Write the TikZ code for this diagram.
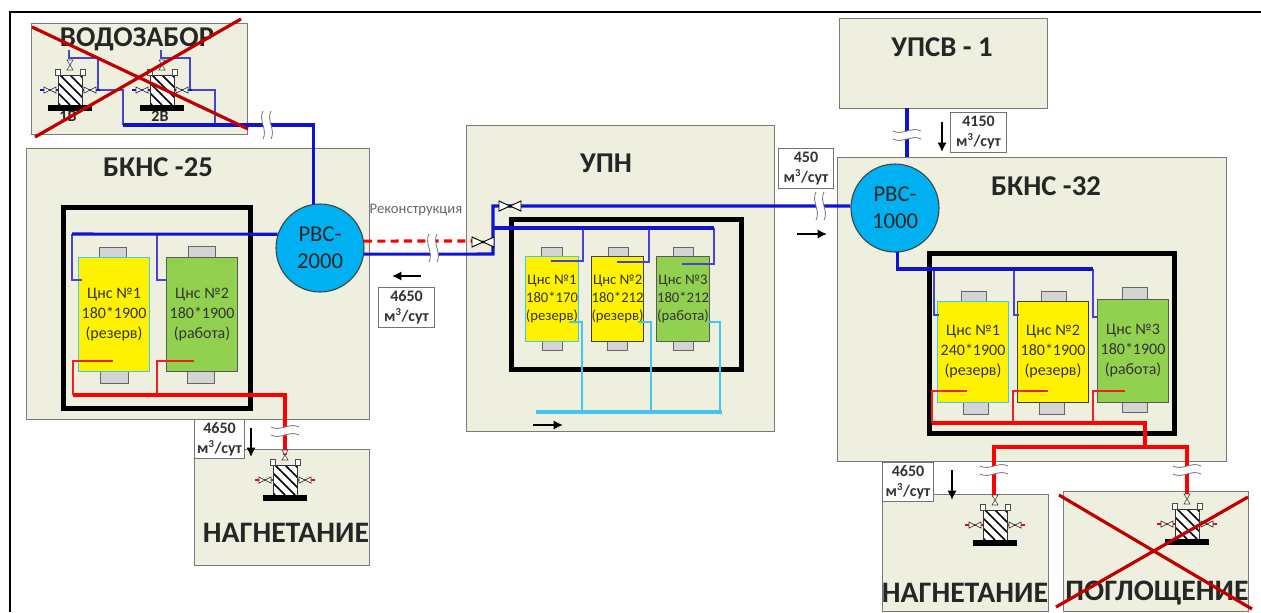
\documentclass[tikz,border=0pt]{standalone}
\usepackage{fontspec}
\setmainfont{Carlito}
\usetikzlibrary{arrows.meta}
\definecolor{bgbox}{HTML}{EFEFDF}
\definecolor{edgegray}{HTML}{7A7A7A}
\definecolor{capgray}{HTML}{D4D4D4}
\definecolor{pumpgreen}{HTML}{92D050}
\definecolor{tankblue}{HTML}{00B0F0}
\definecolor{pipeblue}{HTML}{1212D2}
\definecolor{thinblue}{HTML}{4545D0}
\definecolor{skyline}{HTML}{45C4EE}
\definecolor{pipered}{HTML}{FF0000}
\definecolor{thinred}{HTML}{F02020}
\definecolor{crossred}{HTML}{C00000}
\tikzset{
  sized/.style 2 args={minimum width=#1*.75pt,minimum height=#2*.75pt},
  station/.style ={draw=edgegray,fill=bgbox,line width=1.1pt,anchor=north west,inner sep=0pt},
  room/.style    ={draw=black,line width=3.6pt,anchor=north west,inner sep=0pt},
  stitle/.style  ={inner sep=0pt,font=\fontsize{21.5}{24}\selectfont\bfseries,text=black!85},
  wtitle/.style  ={stitle,font=\fontsize{22.3}{24}\selectfont\bfseries},
  pumpy/.style   ={draw=skyline,fill=yellow,line width=.8pt,anchor=north west,inner sep=0pt,align=center,
                   font=\fontsize{12}{15}\selectfont,text=black!80},
  pumpk/.style   ={pumpy,draw=black!75},
  pumpg/.style   ={pumpy,draw=black!65,fill=pumpgreen},
  upn/.style     ={font=\fontsize{11}{13.4}\selectfont},
  pumpcap/.style ={draw=black!60,fill=capgray,line width=.8pt,anchor=north west,inner sep=0pt},
  tank/.style    ={circle,draw=black!75,fill=tankblue,line width=.8pt,minimum size=66pt,inner sep=0pt,
                   align=center,font=\fontsize{17}{20}\selectfont,text=black!85},
  rate/.style    ={draw=black!55,fill=white,line width=.8pt,anchor=north west,inner sep=0pt,align=center,
                   font=\fontsize{12}{15}\selectfont\bfseries,text=black!80},
  wlabel/.style  ={inner sep=0pt,font=\fontsize{12}{13}\selectfont\bfseries,text=black!85},
  bluemain/.style={draw=pipeblue,line width=2.3pt},
  bluethin/.style={draw=thinblue,line width=.9pt},
  redmain/.style ={draw=pipered,line width=2.3pt},
  redthin/.style ={draw=thinred,line width=.8pt},
  redplan/.style ={redmain,dash pattern=on 6pt off 4pt},
  skymain/.style ={draw=skyline,line width=2.3pt},
  skythin/.style ={draw=skyline,line width=.9pt},
  flow/.style    ={-{Latex[length=7pt,width=7pt]},line width=1.4pt},
  crossout/.style={draw=crossred,line width=2.4pt},
  pipebreak/.pic={
    \fill[white] (-4,-14) .. controls (-9,-5) and (1,5) .. (-4,14) -- (4,14)
      .. controls (9,5) and (-1,-5) .. (4,-14) -- cycle;
    \draw[black!55,line width=.6pt] (-4,-14) .. controls (-9,-5) and (1,5) .. (-4,14);
    \draw[black!55,line width=.6pt] (4,-14) .. controls (-1,-5) and (9,5) .. (4,14);
  },
  valve/.pic={
    \draw[black,fill=white,line width=.7pt] (-11,-5) -- (11,5) -- (11,-5) -- (-11,5) -- cycle;
    \fill[black] (0,0) circle (1.6);
  },
  well/.pic={
    \draw[pic actions,line width=.8pt] (-30,0) -- (-12,0) (12,0) -- (30,0);
    \begin{scope}
      \clip (-12,-15) rectangle (12,15);
      \fill[white] (-12,-15) rectangle (12,15);
      \foreach \hx in {-40,-30,...,10} \draw[black,line width=1.3pt] (\hx,-15) -- (\hx+30,15);
    \end{scope}
    \draw[black!80,line width=.7pt] (-12,-15) rectangle (12,15);
    \fill[black] (-22,15) rectangle (22,21);
    \draw[black!70,fill=white,line width=.5pt] (-15,-21) rectangle (-10,-15);
    \draw[black!70,fill=white,line width=.5pt] (10,-21) rectangle (15,-15);
    \draw[black!70,fill=white,line width=.5pt] (-3,-30) -- (3,-20) -- (-3,-20) -- (3,-30) -- cycle;
    \draw[black!80,fill=white,line width=.5pt] (-26,-3) -- (-14,3) -- (-14,-3) -- (-26,3) -- cycle;
    \draw[black!80,fill=white,line width=.5pt] (14,-3) -- (26,3) -- (26,-3) -- (14,3) -- cycle;
  },
}

\begin{document}
\begin{tikzpicture}[x=.75pt,y=-.75pt]
  \useasboundingbox (0,0) rectangle (1261,612);
  \draw[black,line width=1.7pt] (1261,12) -- (10,12) -- (10,612);

  % stations
  \node[station,sized={216}{111}] (vodozabor) at (31,23) {};
  \node[station,sized={343}{271}] (bkns25) at (26,148) {};
  \node[station,sized={175}{116}] (nagn25) at (194,449) {};
  \node[station,sized={308}{306}] (upn) at (466,125) {};
  \node[station,sized={208}{90}] (upsv) at (839,18) {};
  \node[station,sized={389}{304}] (bkns32) at (837,157) {};
  \node[station,sized={166}{117}] (nagn32) at (882,494) {};
  \node[station,sized={185}{120}] (pogl) at (1063,491) {};

  \node[stitle] (tvodozabor) at (137,39) {ВОДОЗАБОР};
  \node[stitle] (tbkns25) at (158,167) {БКНС -25};
  \node[wtitle] (tnagn25) at (286,533) {НАГНЕТАНИЕ};
  \node[stitle] (tupn) at (606,163) {УПН};
  \node[stitle] (tupsv) at (942,47) {УПСВ - 1};
  \node[stitle] (tbkns32) at (1046,186) {БКНС -32};
  \node[wtitle] (tnagn32) at (965,593) {НАГНЕТАНИЕ};
  \node[wtitle] (tpogl) at (1157,593) {ПОГЛОЩЕНИЕ};

  % pump rooms
  \node[room,sized={187}{201}] (room25) at (61,205) {};
  \node[room,sized={230}{150}] (roomupn) at (509,217) {};
  \node[room,sized={245}{180}] (room32) at (927,251) {};

  % pumps, BKNS-25
  \node[pumpcap,sized={27}{10}] (c25a) at (99,247) {};
  \node[pumpcap,sized={28}{12}] (d25a) at (100,371) {};
  \node[pumpcap,sized={27}{11}] (c25b) at (188,246) {};
  \node[pumpcap,sized={27}{12}] (d25b) at (187,371) {};
  \node[pumpy,sized={71}{114}] (p25a) at (78,257) {Цнс №1\\180*1900\\(резерв)};
  \node[pumpg,sized={71}{114}] (p25b) at (166,257) {Цнс №2\\180*1900\\(работа)};

  % pumps, UPN
  \node[pumpcap,sized={21}{9}] (cupa) at (541,247) {};
  \node[pumpcap,sized={20}{9}] (dupa) at (542,341) {};
  \node[pumpcap,sized={20}{9}] (cupb) at (608,247) {};
  \node[pumpcap,sized={20}{9}] (dupb) at (607,341) {};
  \node[pumpcap,sized={20}{9}] (cupc) at (673,247) {};
  \node[pumpcap,sized={20}{9}] (dupc) at (673,341) {};
  \node[pumpy,upn,sized={53}{85}] (pupa) at (525,256) {Цнс №1\\180*170\\(резерв)};
  \node[pumpk,upn,sized={52}{85}] (pupb) at (591,256) {Цнс №2\\180*212\\(резерв)};
  \node[pumpg,upn,sized={53}{85}] (pupc) at (656,256) {Цнс №3\\180*212\\(работа)};

  % pumps, BKNS-32
  \node[pumpcap,sized={25}{10}] (c32a) at (961,291) {};
  \node[pumpcap,sized={25}{12}] (d32a) at (963,402) {};
  \node[pumpcap,sized={25}{10}] (c32b) at (1041,291) {};
  \node[pumpcap,sized={25}{12}] (d32b) at (1039,402) {};
  \node[pumpcap,sized={25}{12}] (c32c) at (1122,287) {};
  \node[pumpcap,sized={25}{11}] (d32c) at (1122,401) {};
  \node[pumpy,sized={71}{101}] (p32a) at (937,301) {Цнс №1\\240*1900\\(резерв)};
  \node[pumpk,sized={71}{101}] (p32b) at (1017,301) {Цнс №2\\180*1900\\(резерв)};
  \node[pumpg,sized={71}{103}] (p32c) at (1097,299) {Цнс №3\\180*1900\\(работа)};

  % tanks
  \node[tank] (tank25) at (320,248) {РВС-\\2000};
  \node[tank] (tank32) at (895,208) {РВС-\\1000};

  % junctions
  \coordinate (wa) at (69,50);
  \coordinate (waa) at (98,58);
  \coordinate (wab) at (123,90);
  \coordinate (wba) at (161,50);
  \coordinate (wbb) at (190,58);
  \coordinate (wbc) at (215,90);
  \coordinate (wsa) at (123,125);
  \coordinate (wsb) at (215,125);
  \coordinate (wel) at (82,90);
  \coordinate (wer) at (174,90);
  \coordinate (ja) at (72,234);
  \coordinate (jaa) at (82,280);
  \coordinate (jb) at (157,234);
  \coordinate (jba) at (166,280);
  \coordinate (ra) at (113,361);
  \coordinate (raa) at (73,395);
  \coordinate (rb) at (194,361);
  \coordinate (rba) at (157,395);
  \coordinate (rd) at (285,455);
  \coordinate (ua) at (493,254);
  \coordinate (ub) at (493,206);
  \coordinate (uc) at (493,228);
  \coordinate (ud) at (583,228);
  \coordinate (ue) at (649,228);
  \coordinate (uf) at (714,228);
  \coordinate (uda) at (551,261);
  \coordinate (uea) at (617,262);
  \coordinate (ufa) at (682,264);
  \coordinate (ka) at (569,322);
  \coordinate (kaa) at (582,412);
  \coordinate (kb) at (638,322);
  \coordinate (kba) at (651,412);
  \coordinate (kc) at (708,322);
  \coordinate (kca) at (720,412);
  \coordinate (ks) at (536,412);
  \coordinate (ke) at (722,412);
  \coordinate (va) at (907,108);
  \coordinate (vb) at (907,157);
  \coordinate (xb) at (1093,269);
  \coordinate (xc) at (934,269);
  \coordinate (xca) at (939,315);
  \coordinate (xd) at (1014,269);
  \coordinate (xda) at (1019,315);
  \coordinate (xea) at (1097,317);
  \coordinate (za) at (967,391);
  \coordinate (zaa) at (932,423);
  \coordinate (zb) at (1048,391);
  \coordinate (zba) at (1013,423);
  \coordinate (zc) at (1125,391);
  \coordinate (zca) at (1093,423);
  \coordinate (ze) at (1145,447);
  \coordinate (zg) at (1187,447);
  \coordinate (zfa) at (994,497);
  \coordinate (zga) at (1187,497);
  \coordinate (plan) at (472,241);

  % thin branches
  \draw[bluethin] (wa) |- (waa) |- (wel);
  \draw[bluethin] (waa |- wel) -- (wab) -- (wsa);
  \draw[bluethin] (wba) |- (wbb) |- (wer);
  \draw[bluethin] (wbb |- wer) -- (wbc) -- (wsb);
  \draw[bluethin] (ja) |- (jaa);
  \draw[bluethin] (jb) |- (jba);
  \draw[redthin] (ra) -| (raa);
  \draw[redthin] (rb) -| (rba);
  \draw[bluethin] (ud) |- (uda);
  \draw[bluethin] (ue) |- (uea);
  \draw[bluethin] (uf) |- (ufa);
  \draw[skythin] (ka) -| (kaa);
  \draw[skythin] (kb) -| (kba);
  \draw[skythin] (kc) -| (kca);
  \draw[bluethin] (xc) |- (xca);
  \draw[bluethin] (xd) |- (xda);
  \draw[bluethin] (xb) |- (xea);
  \draw[redthin] (za) -| (zaa);
  \draw[redthin] (zb) -| (zba);
  \draw[redthin] (zc) -| (zca);

  % main pipes
  \draw[bluemain] (wsa) -| (tank25.99);
  \draw[bluemain] (tank25.162) -- (ja);
  \draw[redmain] (raa) -| (rd);
  \draw[redplan] (tank25.9) -- (plan);
  \draw[bluemain] (tank25.-8) -- (ua) -- (ub) -- (tank32.west |- ub);
  \draw[bluemain] (uc) -- (uf);
  \draw[skymain] (ks) -- (ke);
  \draw[bluemain] (va) -- (vb);
  \draw[bluemain] (tank32.-87) |- (xb);
  \draw[redmain] (zaa) -| (ze);
  \draw[redmain] (zfa) |- (zg) -- (zga);

  % wells
  \pic[draw=pipeblue] (wellb1) at (70,90) {well};
  \pic[draw=pipeblue] (wellb2) at (162,90) {well};
  \pic[draw=pipered] (welln25) at (285,480) {well};
  \pic[draw=pipered] (welln32) at (995,525) {well};
  \pic[draw=pipered] (wellp) at (1187,524) {well};
  \node[wlabel] (lb1) at (68,116) {1В};
  \node[wlabel] (lb2) at (160,116) {2В};

  % valves and pipe breaks
  \pic (vup) at (510,206) {valve};
  \pic (vplan) at (483,242) {valve};
  \pic (bra) at (267,125) {pipebreak};
  \pic (brb) at (433,248) {pipebreak};
  \pic (brc) at (820,206) {pipebreak};
  \pic[rotate=90] (brd) at (907,135) {pipebreak};
  \pic[rotate=90] (bre) at (285,431) {pipebreak};
  \pic[rotate=90] (brf) at (994,470) {pipebreak};
  \pic[rotate=90] (brg) at (1187,470) {pipebreak};

  % rates
  \node[rate,sized={56}{40}] (r25) at (378,287) {4650\\м\textsuperscript{3}/сут};
  \node[rate,sized={50}{39}] (rn25) at (194,419) {4650\\м\textsuperscript{3}/сут};
  \node[rate,sized={56}{40}] (r4150) at (950,112) {4150\\м\textsuperscript{3}/сут};
  \node[rate,sized={55}{40}] (r450) at (778,148) {450\\м\textsuperscript{3}/сут};
  \node[rate,sized={51}{39}] (rn32) at (882,462) {4650\\м\textsuperscript{3}/сут};
  \node[inner sep=0pt,font=\fontsize{11}{12}\selectfont,text=black!60] (recon) at (416,210) {Реконструкция};

  % flow arrows
  \coordinate (fa) at (421,276);
  \coordinate (faa) at (392,276);
  \coordinate (fb) at (251,428);
  \coordinate (fba) at (251,457);
  \coordinate (fc) at (533,425);
  \coordinate (fca) at (563,425);
  \coordinate (fd) at (942,122);
  \coordinate (fda) at (942,152);
  \coordinate (fe) at (797,234);
  \coordinate (fea) at (827,234);
  \coordinate (ff) at (952,470);
  \coordinate (ffa) at (952,500);
  \draw[flow] (fa) -- (faa);
  \draw[flow] (fb) -- (fba);
  \draw[flow] (fc) -- (fca);
  \draw[flow] (fd) -- (fda);
  \draw[flow] (fe) -- (fea);
  \draw[flow] (ff) -- (ffa);

  % crossed out
  \draw[crossout] (32,27) -- (248,129);
  \draw[crossout] (35,137) -- (241,19);
  \draw[crossout] (1059,495) -- (1252,609);
  \draw[crossout] (1056,607) -- (1248,497);

\end{tikzpicture}
\end{document}
